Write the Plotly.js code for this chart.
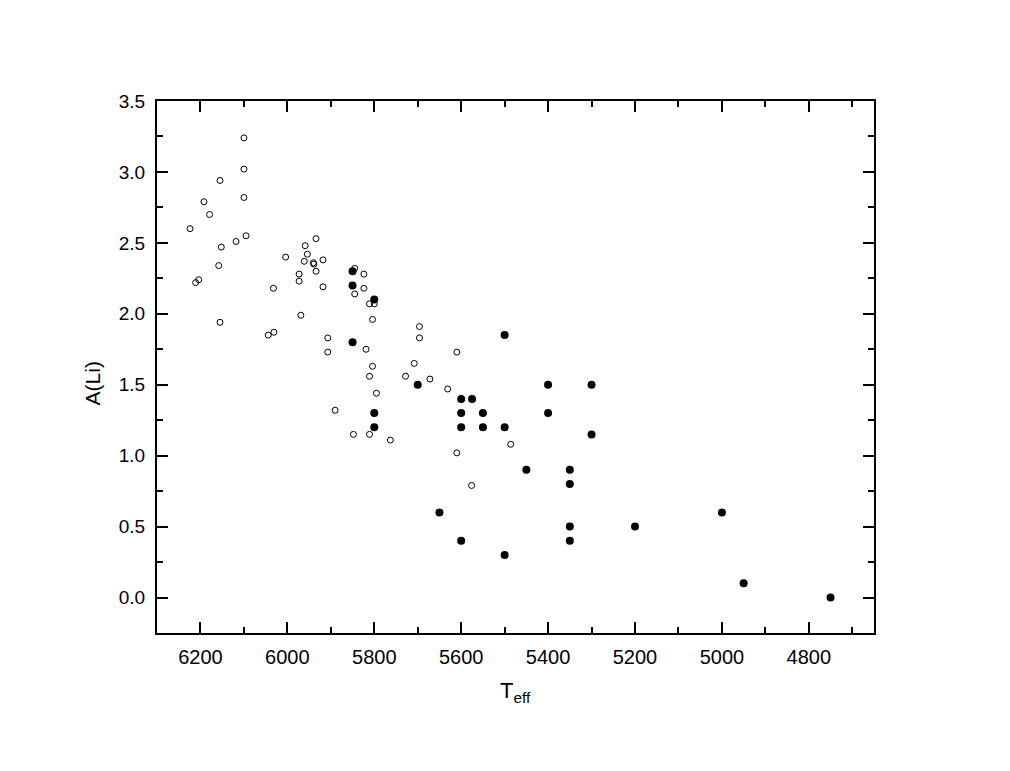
<!DOCTYPE html>
<html>
<head>
<meta charset="utf-8">
<script src="https://cdn.plot.ly/plotly-3.0.1.min.js"></script>
<style>
  html, body { margin: 0; padding: 0; background: #fff; }
  #graph { width: 1010px; height: 771px; }
</style>
</head>
<body>
<div id="graph"></div>
<script>
// open circles
var openTeff = [6100, 6100, 6155, 6100, 6192, 6179, 6224, 6095, 6118, 6152,
    5934, 5959, 6004, 5954, 5961, 5940, 5939, 5918, 6158, 5845,
    5934, 6211, 6204, 5973, 5973, 6032, 5918, 5824, 5824, 5845,
    5811, 5800, 5969, 5804, 6155, 6044, 6031, 5907, 5907, 5819,
    5804, 5811, 5795, 5890, 5848, 5811, 5763, 5696, 5696, 5610,
    5708, 5728, 5672, 5631, 5486, 5610, 5576];
var openALi = [3.24, 3.02, 2.94, 2.82, 2.79, 2.70, 2.60, 2.55, 2.51, 2.47,
    2.53, 2.48, 2.40, 2.42, 2.37, 2.36, 2.35, 2.38, 2.34, 2.32,
    2.30, 2.22, 2.24, 2.28, 2.23, 2.18, 2.19, 2.28, 2.18, 2.14,
    2.07, 2.07, 1.99, 1.96, 1.94, 1.85, 1.87, 1.83, 1.73, 1.75,
    1.63, 1.56, 1.44, 1.32, 1.15, 1.15, 1.11, 1.91, 1.83, 1.73,
    1.65, 1.56, 1.54, 1.47, 1.08, 1.02, 0.79];

// filled circles
var fullTeff = [5850, 5850, 5800, 5850, 5700, 5800, 5800, 5500, 5400, 5300,
    5600, 5575, 5600, 5550, 5400, 5600, 5550, 5500, 5300, 5450,
    5350, 5350, 5650, 5600, 5500, 5350, 5350, 5200, 5000, 4950, 4750];
var fullALi = [2.30, 2.20, 2.10, 1.80, 1.50, 1.30, 1.20, 1.85, 1.50, 1.50,
    1.40, 1.40, 1.30, 1.30, 1.30, 1.20, 1.20, 1.20, 1.15, 0.90,
    0.90, 0.80, 0.60, 0.40, 0.30, 0.50, 0.40, 0.50, 0.60, 0.10, 0.00];

var xTitle = 'T<sub>eff</sub>';
var yTitle = 'A(Li)';

function drawGraph() {
    var openTrace = {
        x: openTeff,
        y: openALi,
        type: 'scatter',
        mode: 'markers',
        marker: { symbol: 'circle-open', size: 6, color: '#000', line: { width: 1, color: '#000' } },
        showlegend: false
    };
    var fullTrace = {
        x: fullTeff,
        y: fullALi,
        type: 'scatter',
        mode: 'markers',
        marker: { symbol: 'circle', size: 8, color: '#000' },
        showlegend: false
    };

    var fam = 'Liberation Sans, Arial, sans-serif';

    var layout = {
        width: 1010,
        height: 771,
        margin: { l: 157, r: 136, t: 101, b: 138 },
        paper_bgcolor: '#fff',
        plot_bgcolor: '#fff',
        xaxis: {
            range: [6300, 4650],
            tickmode: 'linear',
            tick0: 4800,
            dtick: 200,
            ticks: 'inside',
            ticklen: 11,
            tickwidth: 2,
            tickcolor: '#000',
            minor: { ticks: 'inside', dtick: 100, ticklen: 6, tickwidth: 2, tickcolor: '#000' },
            showline: true,
            linewidth: 2,
            linecolor: '#000',
            mirror: 'ticks',
            showgrid: false,
            zeroline: false,
            ticklabelstandoff: 5,
            tickfont: { family: fam, size: 20, color: '#000' }
        },
        yaxis: {
            range: [-0.25, 3.5],
            tickmode: 'linear',
            tick0: 0,
            dtick: 0.5,
            tickformat: '.1f',
            ticks: 'inside',
            ticklen: 11,
            tickwidth: 2,
            tickcolor: '#000',
            minor: { ticks: 'inside', dtick: 0.25, ticklen: 6, tickwidth: 2, tickcolor: '#000' },
            showline: true,
            linewidth: 2,
            linecolor: '#000',
            mirror: 'ticks',
            showgrid: false,
            zeroline: false,
            ticklabelstandoff: 6,
            tickfont: { family: fam, size: 19, color: '#000' }
        },
        annotations: [
            {
                text: xTitle, xref: 'paper', yref: 'paper', x: 0.5, y: -0.08,
                xanchor: 'center', yanchor: 'top', showarrow: false,
                font: { family: fam, size: 22, color: '#000' }
            },
            {
                text: yTitle, xref: 'paper', yref: 'paper', x: -0.09, y: 0.47,
                xanchor: 'center', yanchor: 'middle', textangle: -90, showarrow: false,
                font: { family: fam, size: 21, color: '#000' }
            }
        ]
    };

    Plotly.newPlot('graph', [openTrace, fullTrace], layout, { displayModeBar: false });
}

drawGraph();
</script>
</body>
</html>
